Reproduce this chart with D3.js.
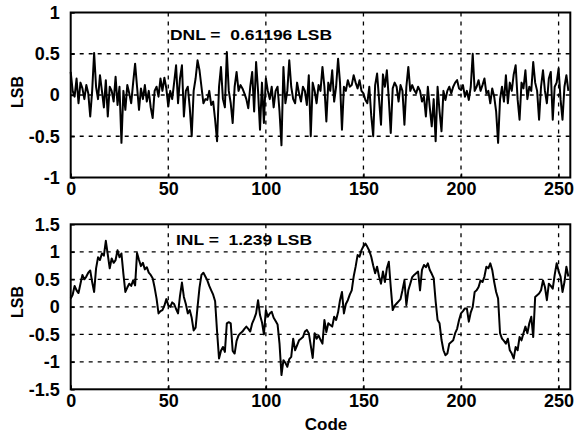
<!DOCTYPE html>
<html>
<head>
<meta charset="utf-8">
<script src="https://cdn.jsdelivr.net/npm/d3@7"></script>
<style>
  html, body { margin: 0; padding: 0; background: #fff; }
  svg { display: block; }
  text { font-family: "Liberation Sans", Arial, Helvetica, sans-serif; font-weight: bold; fill: #000; }
</style>
</head>
<body>
<svg id="chart" width="577" height="435"></svg>
<script>
// ---------------- data ----------------
const xTicks = [0, 50, 100, 150, 200, 250];
const dnlTicks = [-1, -0.5, 0, 0.5, 1];
const inlTicks = [-1.5, -1, -0.5, 0, 0.5, 1, 1.5];
const dnlLabel = "DNL =  0.61196 LSB";
const inlLabel = "INL =  1.239 LSB";
const yTitle = "LSB";
const xTitle = "Code";

const dnl = [
  0.28, 0.05, -0.02, 0.20, -0.10, 0.15, 0.08, -0.05, 0.12, 0.02, -0.26, 0.05, 0.51, 0.10, -0.05, 0.24,
  0.05, -0.15, 0.18, -0.26, 0.10, 0.05, -0.08, 0.22, -0.12, 0.10, -0.58, 0.05, -0.18, 0.12, 0.02, -0.10,
  0.15, 0.38, 0.10, -0.18, 0.08, -0.05, 0.12, -0.08, 0.05, -0.15, -0.28, 0.05, 0.10, -0.02, 0.20, 0.05,
  0.21, 0.08, -0.14, 0.05, -0.05, 0.15, 0.36, -0.10, 0.20, 0.36, -0.26, 0.05, 0.10, -0.15, -0.50, 0.05,
  0.20, 0.42, 0.30, 0.10, -0.10, -0.05, -0.06, 0.05, -0.12, -0.08, -0.30, -0.56, 0.10, 0.34, -0.05, -0.15,
  0.52, 0.05, -0.10, -0.34, 0.10, 0.28, 0.05, 0.12, 0.08, 0.02, -0.05, -0.16, 0.10, 0.28, -0.20, 0.40,
  0.05, -0.42, 0.15, -0.34, 0.20, 0.05, -0.05, 0.10, -0.15, 0.05, 0.10, -0.20, -0.61, 0.34, -0.10, 0.05,
  0.42, 0.10, -0.05, -0.10, 0.15, 0.02, -0.08, 0.10, 0.05, -0.12, 0.24, -0.50, 0.15, 0.05, -0.10, 0.12,
  0.05, 0.34, 0.10, -0.32, 0.15, 0.05, 0.30, -0.08, 0.10, 0.44, 0.15, -0.42, 0.10, 0.05, 0.18, 0.10,
  0.12, 0.24, 0.15, 0.08, 0.18, 0.05, 0.02, -0.06, -0.10, 0.10, -0.25, -0.50, 0.12, 0.26, -0.05, -0.36,
  0.25, 0.10, 0.30, -0.05, -0.46, 0.08, 0.15, 0.10, -0.08, 0.12, 0.05, -0.36, 0.10, 0.34, 0.05, 0.12,
  0.06, 0.02, 0.10, 0.05, -0.08, -0.02, -0.26, 0.10, -0.15, -0.38, -0.05, -0.56, 0.10, -0.20, -0.44, 0.05,
  -0.06, 0.05, 0.10, 0.02, 0.10, 0.15, 0.18, 0.08, 0.06, 0.12, -0.02, 0.05, -0.06, 0.10, 0.50, 0.05,
  0.10, 0.18, 0.05, 0.12, 0.20, 0.02, 0.05, -0.10, 0.08, -0.02, -0.20, -0.58, -0.05, 0.10, -0.08, 0.24,
  -0.10, 0.15, 0.05, 0.25, 0.36, -0.05, -0.30, 0.15, 0.08, 0.30, -0.05, 0.10, 0.05, 0.40, 0.15, 0.05,
  -0.30, 0.10, 0.30, 0.05, -0.10, 0.20, 0.28, -0.30, 0.10, 0.15, 0.32, -0.05, -0.30, 0.10, 0.24, 0.05
];

const inl = [
  0.15, 0.22, 0.38, 0.30, 0.25, 0.42, 0.58, 0.50, 0.55, 0.62, 0.66, 0.45, 0.27, 0.70, 0.90, 0.85,
  0.97, 0.93, 1.20, 0.95, 0.70, 0.88, 0.80, 0.85, 1.03, 0.90, 0.97, 0.60, 0.27, 0.35, 0.42, 0.38,
  0.48, 0.39, 0.98, 0.85, 0.74, 0.80, 0.68, 0.72, 0.62, 0.58, 0.52, 0.35, 0.15, -0.12, -0.08, -0.06,
  0.02, 0.14, 0.03, 0.00, 0.08, 0.05, -0.04, -0.12, 0.20, 0.44, 0.18, 0.05, -0.12, -0.06, -0.20, -0.43,
  -0.38, 0.00, 0.35, 0.58, 0.62, 0.55, 0.48, 0.38, 0.30, 0.22, 0.10, -0.45, -0.94, -0.80, -0.73, -0.82,
  -0.30, -0.28, -0.30, -0.80, -0.85, -0.62, -0.52, -0.48, -0.45, -0.40, -0.36, -0.40, -0.45, -0.30, -0.22, -0.12,
  0.12, -0.15, -0.28, -0.50, -0.06, -0.18, -0.12, -0.09, -0.20, -0.26, -0.32, -0.67, -1.24, -0.97, -1.02, -1.09,
  -0.95, -0.91, -0.58, -0.79, -0.70, -0.61, -0.58, -0.55, -0.45, -0.42, -0.48, -0.70, -0.93, -0.48, -0.58, -0.52,
  -0.60, -0.67, -0.24, -0.46, -0.30, -0.33, -0.36, -0.18, -0.24, -0.10, 0.12, 0.27, -0.12, 0.05, 0.12, 0.22,
  0.30, 0.55, 0.73, 0.94, 0.91, 1.03, 1.10, 1.15, 1.09, 1.02, 0.91, 0.75, 0.61, 0.73, 0.55, 0.42,
  0.64, 0.45, 0.70, 0.82, 0.36, -0.06, 0.02, 0.06, 0.10, 0.14, 0.30, 0.48, 0.03, 0.30, 0.42, 0.54,
  0.58, 0.61, 0.64, 0.30, 0.67, 0.76, 0.72, 0.79, 0.67, 0.60, 0.52, 0.10, -0.24, -0.30, -0.60, -0.79,
  -0.88, -0.85, -0.67, -0.64, -0.61, -0.48, -0.40, -0.24, -0.12, -0.08, -0.03, -0.03, -0.27, -0.10, 0.00, 0.27,
  0.30, 0.36, 0.48, 0.45, 0.55, 0.73, 0.70, 0.79, 0.67, 0.45, 0.27, 0.15, -0.48, -0.58, -0.62, -0.67,
  -0.58, -0.79, -0.85, -0.94, -0.73, -0.79, -0.55, -0.61, -0.48, -0.36, -0.48, -0.30, -0.18, -0.55, 0.18, 0.21,
  0.24, 0.30, 0.48, 0.36, 0.12, 0.42, 0.38, 0.33, 0.58, 0.79, 0.65, 0.55, 0.27, 0.45, 0.73, 0.55
];

// ---------------- drawing ----------------
const svg = d3.select("#chart");
const x = d3.scaleLinear().domain([0, 256]).range([70.7, 570.3]);

function panel(data, yDomain, yRange, ticks, label, labelPos, labelLen, titleY) {
  const y = d3.scaleLinear().domain(yDomain).range(yRange);
  const g = svg.append("g");
  const x0 = x.range()[0], x1 = x.range()[1];
  const yTop = yRange[1], yBot = yRange[0];

  // dashed grid
  g.append("g").selectAll("line.h")
    .data(ticks.filter(t => t > yDomain[0] && t < yDomain[1]))
    .join("line")
    .attr("x1", x0).attr("x2", x1)
    .attr("y1", d => y(d)).attr("y2", d => y(d))
    .attr("stroke", "#000").attr("stroke-width", 1.3)
    .attr("stroke-dasharray", "4,5");
  g.append("g").selectAll("line.v")
    .data(xTicks.filter(t => t > 0))
    .join("line")
    .attr("x1", d => x(d)).attr("x2", d => x(d))
    .attr("y1", yTop).attr("y2", yBot)
    .attr("stroke", "#000").attr("stroke-width", 1.3)
    .attr("stroke-dasharray", "4,5");

  // data line
  const line = d3.line().x((d, i) => x(i)).y(d => y(d));
  g.append("path").datum(data)
    .attr("d", line)
    .attr("fill", "none").attr("stroke", "#000")
    .attr("stroke-width", 2).attr("stroke-linejoin", "round");

  // axes
  const ax = g.append("g").attr("transform", `translate(${x0},0)`)
    .call(d3.axisLeft(y).tickValues(ticks).tickSize(-4).tickPadding(11).tickFormat(d => String(d)));
  ax.select(".domain").remove();
  ax.selectAll("text").style("font-size", "18px").style("font-weight", "bold")
    .style("font-family", '"Liberation Sans", Arial, sans-serif');
  ax.selectAll("line").attr("stroke-width", 1.5);

  const bx = g.append("g").attr("transform", `translate(0,${yBot})`)
    .call(d3.axisBottom(x).tickValues(xTicks).tickSize(-4).tickPadding(5).tickFormat(d => String(d)));
  bx.select(".domain").remove();
  bx.selectAll("text").style("font-size", "18px").style("font-weight", "bold")
    .style("font-family", '"Liberation Sans", Arial, sans-serif');
  bx.selectAll("line").attr("stroke-width", 1.5);

  // frame
  g.append("rect").attr("x", x0).attr("y", yTop)
    .attr("width", x1 - x0).attr("height", yBot - yTop)
    .attr("fill", "none").attr("stroke", "#000").attr("stroke-width", 2);

  // annotation
  g.append("text").attr("x", labelPos[0]).attr("y", labelPos[1])
    .attr("textLength", labelLen).attr("lengthAdjust", "spacingAndGlyphs")
    .style("font-size", "15px").style("white-space", "pre").text(label);

  // y title
  g.append("text")
    .attr("transform", `translate(23,${titleY}) rotate(-90)`)
    .attr("text-anchor", "middle")
    .style("font-size", "16px").text(yTitle);
}

panel(dnl, [-1, 1], [177.5, 12.5], dnlTicks, dnlLabel, [170, 40], 162, 92);
panel(inl, [-1.5, 1.5], [389.3, 224.3], inlTicks, inlLabel, [176, 245], 136, 302);

svg.append("text").attr("x", 326).attr("y", 430)
  .attr("text-anchor", "middle").style("font-size", "17px").text(xTitle);
</script>
</body>
</html>
